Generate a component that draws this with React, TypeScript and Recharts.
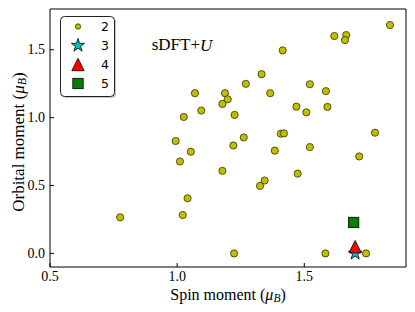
import { ScatterChart, Scatter, XAxis, YAxis, Legend, ReferenceDot } from "recharts";

const FONT = "'Liberation Serif', 'Times New Roman', serif";
const SANS = "'DejaVu Sans', sans-serif";

// spin / orbital moments (units of mu_B)
const spin2 = [
  0.776, 1.011, 1.054, 1.041, 1.022, 1.07, 1.095, 1.026, 0.994, 1.332, 1.27,
  1.366, 1.188, 1.199, 1.178, 1.226, 1.262, 1.221, 1.837, 1.618, 1.665, 1.66,
  1.415, 1.522, 1.585, 1.469, 1.508, 1.591, 1.408, 1.42, 1.778, 1.384, 1.522,
  1.716, 1.178, 1.474, 1.344, 1.326, 1.224, 1.583, 1.743,
];
const orbital2 = [
  0.266, 0.677, 0.749, 0.406, 0.283, 1.18, 1.052, 1.005, 0.828, 1.32, 1.249,
  1.18, 1.18, 1.135, 1.101, 1.02, 0.854, 0.795, 1.682, 1.601, 1.608, 1.571,
  1.495, 1.246, 1.195, 1.081, 1.039, 1.079, 0.882, 0.884, 0.889, 0.757, 0.783,
  0.714, 0.608, 0.588, 0.537, 0.497, 0.0, 0.0, 0.0,
];
const spin3 = [1.7];
const orbital3 = [0.0];
const spin4 = [1.7];
const orbital4 = [0.05];
const spin5 = [1.694];
const orbital5 = [0.228];

const seriesNames = ["2", "3", "4", "5"];
const xTicks = [0.5, 1.0, 1.5];
const yTicks = [0.0, 0.5, 1.0, 1.5];

const toPoints = (xs: number[], ys: number[]) =>
  xs.map((x, i) => ({ spin: x, orbital: ys[i] }));

const data2 = toPoints(spin2, orbital2);
const data3 = toPoints(spin3, orbital3);
const data4 = toPoints(spin4, orbital4);
const data5 = toPoints(spin5, orbital5);

function starPath(cx: number, cy: number, R: number) {
  const pts: string[] = [];
  for (let i = 0; i < 10; i++) {
    const r = i % 2 === 0 ? R : R * 0.382;
    const a = ((-90 + i * 36) * Math.PI) / 180;
    pts.push(`${cx + r * Math.cos(a)},${cy + r * Math.sin(a)}`);
  }
  return "M" + pts.join("L") + "Z";
}

const circleMarker = (cx: number, cy: number, r = 3.6) => (
  <circle cx={cx} cy={cy} r={r} fill="#bfbf00" stroke="#333300" strokeWidth={0.8} />
);

const markers = [
  (cx: number, cy: number) => circleMarker(cx, cy),
  (cx: number, cy: number) => (
    <path d={starPath(cx, cy, 7)} fill="#00bfbf" stroke="#000" strokeWidth={0.8} />
  ),
  (cx: number, cy: number) => (
    <path
      d={`M${cx},${cy - 6.2}L${cx - 6.2},${cy + 6.2}L${cx + 6.2},${cy + 6.2}Z`}
      fill="#ff0000"
      stroke="#000"
      strokeWidth={0.8}
    />
  ),
  (cx: number, cy: number) => (
    <rect x={cx - 5.2} y={cy - 5.2} width={10.4} height={10.4} fill="#008000" stroke="#000" strokeWidth={0.8} />
  ),
];

const fmt = (v: number) => v.toFixed(1);

function BottomTick({ x, y, payload }: any) {
  return (
    <g>
      <line x1={x} y1={y} x2={x} y2={y - 4} stroke="#000" />
      <text x={x} y={y + 9} textAnchor="middle" dominantBaseline="central" fontSize={14} fontFamily={FONT}>
        {fmt(payload.value)}
      </text>
    </g>
  );
}

function LeftTick({ x, y, payload }: any) {
  return (
    <g>
      <line x1={x} y1={y} x2={x + 4} y2={y} stroke="#000" />
      <text x={x - 5} y={y} textAnchor="end" dominantBaseline="central" fontSize={14} fontFamily={FONT}>
        {fmt(payload.value)}
      </text>
    </g>
  );
}

function TopTick({ x, y }: any) {
  return <line x1={x} y1={y} x2={x} y2={y + 4} stroke="#000" />;
}

function RightTick({ x, y }: any) {
  return <line x1={x} y1={y} x2={x - 4} y2={y} stroke="#000" />;
}

function XLabel({ viewBox }: any) {
  const cx = viewBox.x + viewBox.width / 2;
  return (
    <text x={cx} y={viewBox.y + 26.5} textAnchor="middle" dominantBaseline="central" fontSize={16} fontFamily={FONT}>
      <tspan>Spin moment (</tspan>
      <tspan fontStyle="italic">μ</tspan>
      <tspan fontStyle="italic" fontSize={11.5} dy={4}>B</tspan>
      <tspan dy={-4}>)</tspan>
    </text>
  );
}

function YLabel({ viewBox }: any) {
  const cy = viewBox.y + viewBox.height / 2 + 4;
  const cx = 18;
  return (
    <text
      x={cx}
      y={cy}
      textAnchor="middle"
      dominantBaseline="central"
      fontSize={17}
      fontFamily={FONT}
      transform={`rotate(-90 ${cx} ${cy})`}
    >
      <tspan>Orbital moment (</tspan>
      <tspan fontStyle="italic">μ</tspan>
      <tspan fontStyle="italic" fontSize={12} dy={4}>B</tspan>
      <tspan dy={-4}>)</tspan>
    </text>
  );
}

function Annotation({ viewBox }: any) {
  return (
    <text x={viewBox.x} y={viewBox.y} dominantBaseline="central" fontSize={17} fontFamily={FONT}>
      sDFT+<tspan fontStyle="italic">U</tspan>
    </text>
  );
}

function LegendBox() {
  const rows = [10.5, 29.5, 48.5, 67.5];
  return (
    <svg width={57} height={83} style={{ display: "block" }}>
      <rect x={2} y={2} width={54} height={80} rx={4} fill="#c8c8c8" />
      <rect x={0.5} y={0.5} width={54} height={80} rx={4} fill="#fff" stroke="#222" strokeWidth={1} />
      {seriesNames.map((name, i) => (
        <g key={name}>
          {i === 0 ? circleMarker(18, rows[i], 2.7) : markers[i](18, rows[i])}
          <text x={45} y={rows[i]} textAnchor="middle" dominantBaseline="central" fontSize={12.5} fontFamily={SANS}>
            {name}
          </text>
        </g>
      ))}
    </svg>
  );
}

export default function App() {
  return (
    <div style={{ position: "absolute", left: 0, top: 0, background: "#fff" }}>
      <ScatterChart width={415} height={312} margin={{ top: 8, right: 8, bottom: 0, left: 0 }}>
        <XAxis
          xAxisId="bottom"
          type="number"
          dataKey="spin"
          domain={[0.5, 1.9]}
          ticks={xTicks}
          interval={0}
          height={45}
          tickSize={0}
          tickMargin={0}
          tickLine={false}
          axisLine={{ stroke: "#000" }}
          tick={<BottomTick />}
          label={(p: any) => <XLabel {...p} />}
        />
        <XAxis
          xAxisId="top"
          orientation="top"
          type="number"
          domain={[0.5, 1.9]}
          ticks={xTicks}
          interval={0}
          height={1}
          tickSize={0}
          tickMargin={0}
          tickLine={false}
          axisLine={{ stroke: "#000" }}
          tick={<TopTick />}
        />
        <YAxis
          yAxisId="left"
          type="number"
          dataKey="orbital"
          domain={[-0.1, 1.8]}
          ticks={yTicks}
          interval={0}
          width={50}
          tickSize={0}
          tickMargin={0}
          tickLine={false}
          axisLine={{ stroke: "#000" }}
          tick={<LeftTick />}
          label={(p: any) => <YLabel {...p} />}
        />
        <YAxis
          yAxisId="right"
          orientation="right"
          type="number"
          domain={[-0.1, 1.8]}
          ticks={yTicks}
          interval={0}
          width={1}
          tickSize={0}
          tickMargin={0}
          tickLine={false}
          axisLine={{ stroke: "#000" }}
          tick={<RightTick />}
        />
        <Scatter
          name={seriesNames[0]}
          data={data2}
          xAxisId="bottom"
          yAxisId="left"
          isAnimationActive={false}
          shape={(p: any) => markers[0](p.cx, p.cy)}
        />
        <Scatter
          name={seriesNames[1]}
          data={data3}
          xAxisId="bottom"
          yAxisId="left"
          isAnimationActive={false}
          shape={(p: any) => markers[1](p.cx, p.cy)}
        />
        <Scatter
          name={seriesNames[2]}
          data={data4}
          xAxisId="bottom"
          yAxisId="left"
          isAnimationActive={false}
          shape={(p: any) => markers[2](p.cx, p.cy)}
        />
        <Scatter
          name={seriesNames[3]}
          data={data5}
          xAxisId="bottom"
          yAxisId="left"
          isAnimationActive={false}
          shape={(p: any) => markers[3](p.cx, p.cy)}
        />
        <ReferenceDot
          x={0.9}
          y={1.535}
          r={0}
          xAxisId="bottom"
          yAxisId="left"
          fill="none"
          stroke="none"
          label={(p: any) => <Annotation {...p} />}
        />
        <Legend
          layout="vertical"
          align="center"
          verticalAlign="middle"
          wrapperStyle={{ left: 60, top: 16, width: 57, height: 83 }}
          content={() => <LegendBox />}
        />
      </ScatterChart>
    </div>
  );
}
